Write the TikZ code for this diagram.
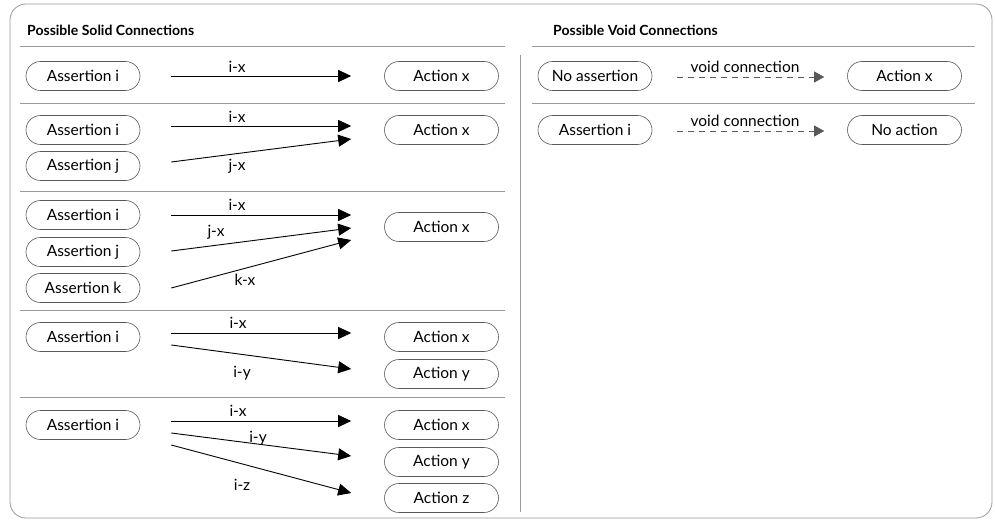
\documentclass[tikz,border=0pt]{standalone}
\usepackage{fontspec}
\setmainfont{Lato}
\usetikzlibrary{arrows.meta,shapes.misc}

\tikzset{
  box/.style = {draw = black!65, line width = 0.6pt, rounded rectangle,
                minimum width = 114pt, minimum height = 29pt, inner sep = 0pt},
  conn/.style = {-{Triangle[length = 13pt, width = 12pt]}, line width = 0.9pt},
  voidconn/.style = {-{Triangle[length = 10pt, width = 11pt]}, black!65,
                     line width = 0.7pt, dash pattern = on 6pt off 5pt},
  rule/.style = {black!40, line width = 0.8pt},
  lbl/.style = {inner sep = 0pt},
  title/.style = {font = \fontsize{14}{16}\selectfont\bfseries, anchor = west, inner sep = 0pt}
}

\begin{document}
\begin{tikzpicture}[x = 1pt, y = -1pt, font = \fontsize{15.5}{18}\selectfont]
        \useasboundingbox (0,0) rectangle (995,521);
        \draw [rule, rounded corners = 16pt] (10,4) rectangle (992,518);

        % headings and rules
        \node [title] (solidt) at (27,30) {Possible Solid Connections};
        \node [title] (voidt) at (553,30) {Possible Void Connections};
        \draw [rule] (20,46) -- (505,46);
        \draw [rule] (532,46) -- (975,46);
        \draw [rule] (520,55) -- (520,512);
        \foreach \y in {103,191,310,397}
            \draw [rule] (20,\y) -- (505,\y);
        \draw [rule] (532,103) -- (975,103);

        % row 1
        \node [box] (ai1) at (83,76) {Assertion i};
        \node [box] (ax1) at (441.5,76) {Action x};
        \draw [conn] ([shift = {(31,0)}]ai1.east) -- ([shift = {(-33,0)}]ax1.west);
        \node [lbl] (l1) at (237,67) {i-x};

        % row 2
        \node [box] (ai2) at (83,130) {Assertion i};
        \node [box] (aj2) at (83,166) {Assertion j};
        \node [box] (ax2) at (441.5,130) {Action x};
        \draw [conn] ([shift = {(31,-4)}]ai2.east) -- ([shift = {(-33,-4)}]ax2.west);
        \draw [conn] ([shift = {(31,-4)}]aj2.east) -- ([shift = {(-33,9)}]ax2.west);
        \node [lbl] (l2a) at (237,117) {i-x};
        \node [lbl] (l2b) at (237,166) {j-x};

        % row 3
        \node [box] (ai3) at (83,215) {Assertion i};
        \node [box] (aj3) at (83,252) {Assertion j};
        \node [box] (ak3) at (83,288) {Assertion k};
        \node [box] (ax3) at (441.5,227) {Action x};
        \draw [conn] ([shift = {(31,0)}]ai3.east) -- ([shift = {(-33,-12)}]ax3.west);
        \draw [conn] ([shift = {(31,-1)}]aj3.east) -- ([shift = {(-33,1)}]ax3.west);
        \draw [conn] ([shift = {(31,0)}]ak3.east) -- ([shift = {(-33,13)}]ax3.west);
        \node [lbl] (l3a) at (237,205) {i-x};
        \node [lbl] (l3b) at (216,232) {j-x};
        \node [lbl] (l3c) at (245,280) {k-x};

        % row 4
        \node [box] (ai4) at (83,337) {Assertion i};
        \node [box] (ax4) at (441.5,337) {Action x};
        \node [box] (ay4) at (441.5,374) {Action y};
        \draw [conn] ([shift = {(31,-4)}]ai4.east) -- ([shift = {(-33,-4)}]ax4.west);
        \draw [conn] ([shift = {(31,8)}]ai4.east) -- ([shift = {(-33,-5)}]ay4.west);
        \node [lbl] (l4a) at (238,323) {i-x};
        \node [lbl] (l4b) at (242,373) {i-y};

        % row 5
        \node [box] (ai5) at (83,425) {Assertion i};
        \node [box] (ax5) at (441.5,425) {Action x};
        \node [box] (ay5) at (441.5,462) {Action y};
        \node [box] (az5) at (441.5,498) {Action z};
        \draw [conn] ([shift = {(31,-4)}]ai5.east) -- ([shift = {(-33,-4)}]ax5.west);
        \draw [conn] ([shift = {(31,8)}]ai5.east) -- ([shift = {(-33,-6)}]ay5.west);
        \draw [conn] ([shift = {(31,20)}]ai5.east) -- ([shift = {(-33,-5)}]az5.west);
        \node [lbl] (l5a) at (238,411) {i-x};
        \node [lbl] (l5b) at (258,438) {i-y};
        \node [lbl] (l5c) at (242,485) {i-z};

        % void connections
        \node [box] (na) at (595,76) {No assertion};
        \node [box] (vx) at (904.5,76) {Action x};
        \draw [voidconn] ([shift = {(25,1)}]na.east) -- ([shift = {(-23,1)}]vx.west);
        \node [lbl] (v1) at (745,67) {void connection};

        \node [box] (vi) at (595,130) {Assertion i};
        \node [box] (noa) at (904.5,130) {No action};
        \draw [voidconn] ([shift = {(25,1)}]vi.east) -- ([shift = {(-23,1)}]noa.west);
        \node [lbl] (v2) at (745,121) {void connection};
\end{tikzpicture}
\end{document}
